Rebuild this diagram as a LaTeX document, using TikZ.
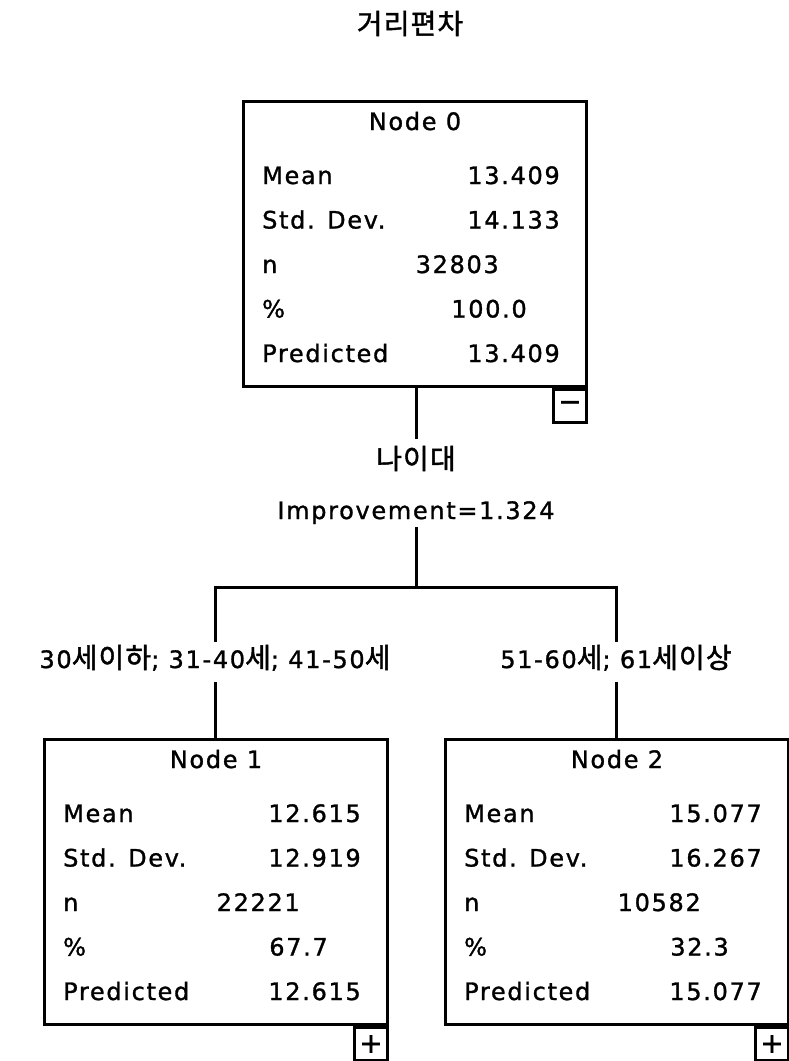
\documentclass[tikz,border=0pt]{standalone}
\usepackage{fontspec}
\setmainfont{DejaVu Sans}[LetterSpace=7, FakeBold=1.2]
\newfontfamily\krfont{Noto Sans CJK KR}[LetterSpace=4, FakeBold=1.5]
\newcommand{\krtext}[1]{{\krfont\fontsize{28}{32}\selectfont #1}}
\usetikzlibrary{calc, positioning}

\newcommand{\statnode}[8]{%
  \node[box, anchor=north west] (#1) at (#2,#3) {};
  \node[txt, anchor=base] (#1title) at ($(#1.north)+(0,30)$) {#4};
  \node[txt, anchor=base west] (#1mean) at ($(#1.north west)+(20,84)$) {Mean};
  \node[txt, anchor=base west] (#1sd) at ($(#1.north west)+(20,128.5)$) {Std. Dev.};
  \node[txt, anchor=base west] (#1n) at ($(#1.north west)+(20,173)$) {n};
  \node[txt, anchor=base west] (#1pct) at ($(#1.north west)+(20,217.5)$) {\%};
  \node[txt, anchor=base west] (#1pred) at ($(#1.north west)+(20,262)$) {Predicted};
  \node[txt, anchor=base east] (#1meanv) at ($(#1.north west)+(318,84)$) {#5};
  \node[txt, anchor=base east] (#1sdv) at ($(#1.north west)+(318,128.5)$) {#6};
  \node[txt, anchor=base east] (#1nv) at ($(#1.north west)+(257,173)$) {#7};
  \node[txt, anchor=base east] (#1pctv) at ($(#1.north west)+(285,217.5)$) {#8};
  \node[txt, anchor=base east] (#1predv) at ($(#1.north west)+(318,262)$) {#5};
}

\begin{document}
\begin{tikzpicture}[x=1pt, y=-1pt,
    txt/.style={font=\fontsize{24}{28}\selectfont, inner sep=0pt},
    lbl/.style={txt, text height=17pt, text depth=5pt},
    box/.style={draw, line width=3pt, minimum width=343pt, minimum height=285pt, inner sep=0pt},
    subbox/.style={draw, line width=3pt, minimum width=33pt, minimum height=33pt, inner sep=0pt, anchor=north east, font=\fontsize{28}{28}\selectfont},
    conn/.style={line width=3pt}]
  \useasboundingbox (0,0) rectangle (788,1061);

  \node[lbl] (title) at (410,28) {\krtext{거리편차}};

  \statnode{n0}{242}{100}{Node 0}{13.409}{14.133}{32803}{100.0}
  \statnode{n1}{43}{738}{Node 1}{12.615}{12.919}{22221}{67.7}
  \statnode{n2}{444}{738}{Node 2}{15.077}{16.267}{10582}{32.3}

  \node[subbox] (n0sub) at (n0.south east) {−};
  \node[subbox] (n1sub) at (n1.south east) {+};
  \node[subbox] (n2sub) at (n2.south east) {+};

  \node[lbl, inner ysep=13pt] (split) at (416,463) {\krtext{나이대}};
  \node[lbl, inner ysep=3pt] (impr) at (416,513) {Improvement=1.324};
  \coordinate (bar) at (416,587);

  \node[lbl, inner ysep=9pt] (lab1) at (215,662) {30\krtext{세이하}; 31-40\krtext{세}; 41-50\krtext{세}};
  \node[lbl, inner ysep=9pt] (lab2) at (616,662) {51-60\krtext{세}; 61\krtext{세이상}};

  \draw[conn] (split.north |- n0.south) -- (split.north);
  \draw[conn] (impr.south) -- (impr.south |- bar);
  \draw[conn] (lab1.north) -- (lab1 |- bar) -- (lab2 |- bar) -- (lab2.north);
  \draw[conn] (lab1.south) -- (lab1.south |- n1.north);
  \draw[conn] (lab2.south) -- (lab2.south |- n2.north);
\end{tikzpicture}
\end{document}
